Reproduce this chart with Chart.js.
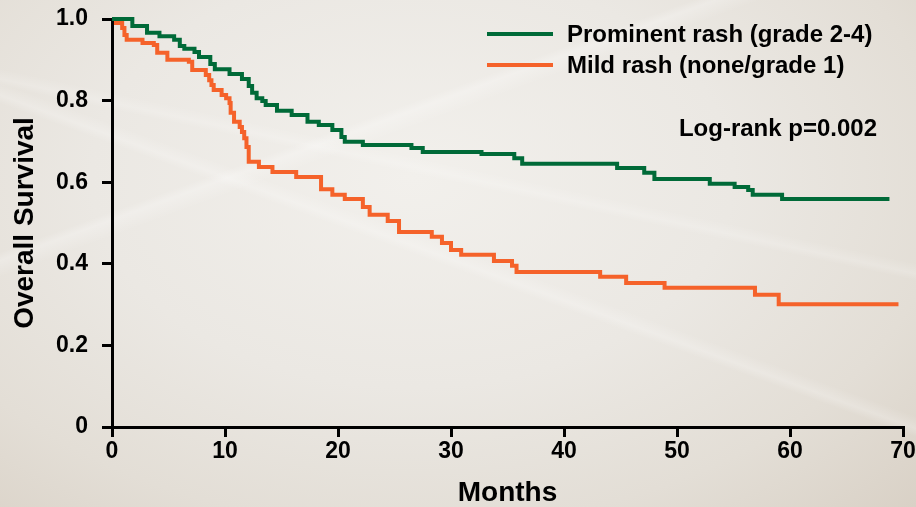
<!DOCTYPE html>
<html>
<head>
<meta charset="utf-8">
<script src="https://cdn.jsdelivr.net/npm/chart.js@4.4.1/dist/chart.umd.min.js"></script>
<style>
    html, body { margin: 0; padding: 0; overflow: hidden; }
    body {
        width: 916px;
        height: 507px;
        background:
            linear-gradient(160deg, rgba(255,255,255,0) 30%, rgba(255,255,255,0.25) 31%, rgba(255,255,255,0) 33%),
            linear-gradient(20deg, rgba(255,255,255,0) 48%, rgba(255,255,255,0.22) 49%, rgba(255,255,255,0) 50.5%),
            linear-gradient(12deg, rgba(255,255,255,0) 60%, rgba(255,255,255,0.18) 61%, rgba(255,255,255,0) 62.5%),
            radial-gradient(ellipse at 45% 35%, #f2f0ec 0%, #ebe8e3 45%, #e3ded6 75%, #d9d1c6 100%);
    }
    #kmChart { position: absolute; left: 0; top: 0; }
</style>
</head>
<body>
<canvas id="kmChart" width="916" height="507"></canvas>
<script>
// ===== DATA =====
const prominentTimes = [0, 1.8, 3.1, 4.2, 5.5, 6.0, 6.4, 7.3, 7.7, 8.7, 9.1, 10.4, 11.5, 12.1, 12.4, 12.8, 13.3, 13.6,
    14.6, 15.9, 17.3, 18.3, 19.5, 20.3, 20.6, 22.2, 26.5, 27.5, 32.7, 35.6, 36.3, 44.7, 47.1, 48.0, 52.9,
    55.1, 56.3, 56.7, 59.3, 68.8];
const prominentSurv = [1.0, 0.983, 0.966, 0.958, 0.949, 0.934, 0.927, 0.919, 0.907, 0.890, 0.877, 0.865, 0.853, 0.836,
    0.819, 0.806, 0.799, 0.789, 0.775, 0.765, 0.748, 0.740, 0.728, 0.711, 0.699, 0.691, 0.684, 0.674, 0.669,
    0.659, 0.645, 0.635, 0.623, 0.608, 0.596, 0.588, 0.581, 0.569, 0.559, 0.559];

const mildTimes = [0, 0.35, 0.9, 1.1, 1.3, 2.7, 3.7, 4.0, 4.9, 6.8, 7.1, 8.3, 8.6, 8.8, 9.0, 9.7, 10.1, 10.4, 10.5,
    10.8, 11.3, 11.5, 11.7, 11.9, 12.1, 13.0, 14.2, 16.3, 18.5, 19.5, 20.6, 22.2, 22.8, 24.4, 25.4, 28.3,
    29.2, 30.0, 30.9, 33.8, 35.4, 35.8, 43.2, 45.5, 48.9, 56.9, 59.0, 69.6];
const mildSurv = [1.0, 0.990, 0.978, 0.961, 0.949, 0.941, 0.936, 0.917, 0.900, 0.895, 0.875, 0.863, 0.850, 0.838,
    0.826, 0.814, 0.806, 0.794, 0.770, 0.748, 0.735, 0.723, 0.708, 0.686, 0.650, 0.637, 0.625, 0.613, 0.583,
    0.569, 0.559, 0.539, 0.520, 0.505, 0.478, 0.466, 0.451, 0.434, 0.422, 0.407, 0.395, 0.380, 0.368, 0.353,
    0.341, 0.324, 0.301, 0.301];

const seriesLabels = ['Prominent rash (grade 2-4)', 'Mild rash (none/grade 1)'];
const xTicks = [0, 10, 20, 30, 40, 50, 60, 70];
const yTicks = [0, 0.2, 0.4, 0.6, 0.8, 1.0];
const yTickLabels = ['0', '0.2', '0.4', '0.6', '0.8', '1.0'];
const pValueText = 'Log-rank p=0.002';

// ===== STYLE =====
const GREEN = '#006a38';
const ORANGE = '#f5622a';
const FONT = '"Liberation Sans", Arial, Helvetica, sans-serif';

function toPoints(times, surv) {
    return times.map((t, i) => ({ x: t, y: surv[i] }));
}

// legend + p-value drawn inside the plot, top right
const kmLegend = {
    id: 'kmLegend',
    afterDatasetsDraw(chart) {
        const ctx = chart.ctx;
        ctx.save();
        ctx.font = 'bold 24px ' + FONT;
        ctx.fillStyle = '#000';
        ctx.textBaseline = 'middle';
        ctx.textAlign = 'left';
        const rows = [[GREEN, 34], [ORANGE, 65]];
        rows.forEach(([color, y], i) => {
            ctx.strokeStyle = color;
            ctx.lineWidth = 4;
            ctx.beginPath();
            ctx.moveTo(487, y);
            ctx.lineTo(553, y);
            ctx.stroke();
            ctx.fillText(seriesLabels[i], 567, y + 1);
        });
        ctx.textAlign = 'right';
        ctx.fillText(pValueText, 877, 129);
        ctx.restore();
    }
};

const axisLine = { color: '#000', width: 3 };

new Chart(document.getElementById('kmChart').getContext('2d'), {
    type: 'line',
    data: {
        datasets: [
            {
                label: seriesLabels[0],
                data: toPoints(prominentTimes, prominentSurv),
                borderColor: GREEN,
                borderWidth: 4,
                stepped: 'before',
                pointRadius: 0,
                fill: false,
                clip: 6,
            },
            {
                label: seriesLabels[1],
                data: toPoints(mildTimes, mildSurv),
                borderColor: ORANGE,
                borderWidth: 4,
                stepped: 'before',
                pointRadius: 0,
                fill: false,
                clip: 6,
            }
        ]
    },
    options: {
        responsive: false,
        animation: false,
        layout: { padding: { top: 19, right: 13, bottom: 0, left: 0 } },
        plugins: {
            legend: { display: false },
            tooltip: { enabled: false }
        },
        scales: {
            x: {
                type: 'linear',
                min: 0,
                max: 70,
                afterBuildTicks: s => { s.ticks = xTicks.map(v => ({ value: v })); },
                afterFit: s => { s.height = 80; s.paddingLeft = 0; s.paddingRight = 0; },
                ticks: {
                    color: '#000',
                    padding: 1,
                    maxRotation: 0,
                    font: { family: FONT, size: 23, weight: 'bold' }
                },
                grid: { drawOnChartArea: false, drawTicks: true, tickLength: 10, color: '#000', lineWidth: 3 },
                border: axisLine,
                title: {
                    display: true,
                    text: 'Months',
                    color: '#000',
                    padding: { top: 0, bottom: 0 },
                    font: { family: FONT, size: 28, weight: 'bold', lineHeight: 1 }
                }
            },
            y: {
                min: 0,
                max: 1,
                afterBuildTicks: s => { s.ticks = yTicks.map(v => ({ value: v })); },
                afterFit: s => { s.width = 112; s.paddingTop = 0; s.paddingBottom = 0; },
                ticks: {
                    color: '#000',
                    padding: 14,
                    callback: (v, i) => yTickLabels[i],
                    font: { family: FONT, size: 23, weight: 'bold' }
                },
                grid: { drawOnChartArea: false, drawTicks: true, tickLength: 10, color: '#000', lineWidth: 3 },
                border: axisLine,
                title: {
                    display: true,
                    text: 'Overall Survival',
                    color: '#000',
                    padding: { top: 11, bottom: 0 },
                    font: { family: FONT, size: 28, weight: 'bold', lineHeight: 1 }
                }
            }
        }
    },
    plugins: [kmLegend]
});
</script>
</body>
</html>
